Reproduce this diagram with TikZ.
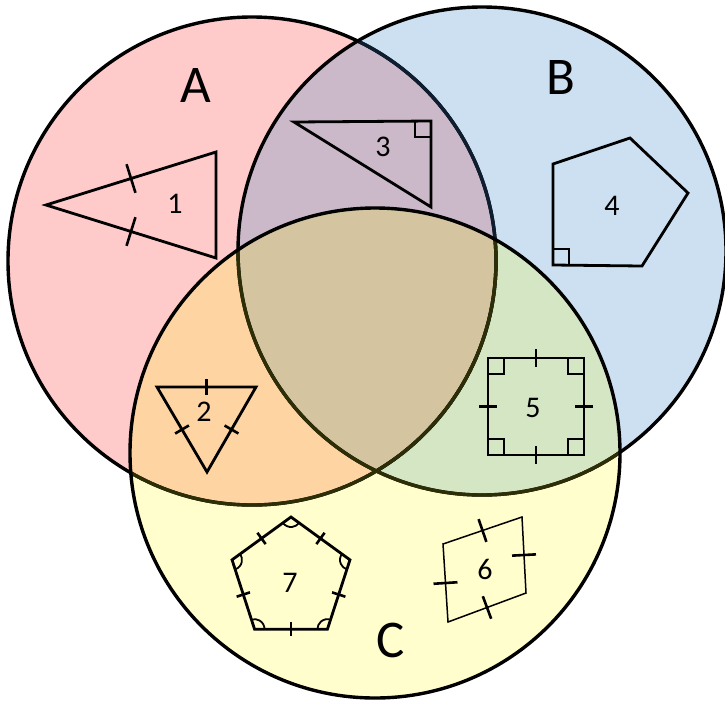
\documentclass[tikz,border=0pt]{standalone}
\usepackage{fontspec}
\setmainfont{Carlito}
\usetikzlibrary{calc,angles}

\definecolor{setA}{HTML}{FFCACA}
\definecolor{setB}{HTML}{CCE0F2}
\definecolor{setC}{HTML}{FFFECC}
\definecolor{setAB}{HTML}{CBB9CA}
\definecolor{setAC}{HTML}{FFD4A3}
\definecolor{setBC}{HTML}{D5E6C5}
\definecolor{setABC}{HTML}{D4C5A0}
\definecolor{edgeB}{HTML}{0E1E30}
\definecolor{edgeC}{HTML}{2E2E06}

\newcommand{\sidetick}[3]{%
  \draw[tickline] ($(#1)!0.5!(#2)!#3!90:(#2)$) -- ($(#1)!0.5!(#2)!#3!-90:(#2)$);}

\begin{document}
\begin{tikzpicture}[x=1pt,y=-1pt,
    venn/.style={line width=3.4pt},
    figline/.style={line width=2.8pt,line join=miter},
    thinfig/.style={line width=1.5pt,line join=miter},
    tickline/.style={line width=2.6pt},
    anglemark/.style={line width=1.8pt},
    setlabel/.style={font=\fontsize{53}{60}\selectfont},
    numlabel/.style={font=\fontsize{30}{34}\selectfont}]
    \useasboundingbox (0,0) rectangle (725,702);

    \coordinate (cA) at (252,261);
    \coordinate (cB) at (482,251);
    \coordinate (cC) at (375,453);

    \fill[setA] (cA) circle[radius=244pt];
    \fill[setB] (cB) circle[radius=244pt];
    \fill[setC] (cC) circle[radius=245pt];
    \begin{scope}
        \clip (cB) circle[radius=244pt];
        \fill[setBC] (cC) circle[radius=245pt];
    \end{scope}
    \begin{scope}
        \clip (cA) circle[radius=244pt];
        \fill[setAB] (cB) circle[radius=244pt];
        \fill[setAC] (cC) circle[radius=245pt];
        \clip (cB) circle[radius=244pt];
        \fill[setABC] (cC) circle[radius=245pt];
    \end{scope}

    \draw[venn] (cA) circle[radius=244pt];
    \begin{scope}
        \clip (cB) circle[radius=244pt];
        \draw[venn,edgeB] (cA) circle[radius=244pt];
    \end{scope}
    \draw[venn] (cB) circle[radius=244pt];
    \begin{scope}
        \clip (cC) circle[radius=245pt];
        \draw[venn,edgeC] (cA) circle[radius=244pt];
        \draw[venn,edgeC] (cB) circle[radius=244pt];
    \end{scope}
    \draw[venn] (cC) circle[radius=245pt];

    \node[setlabel] (labA) at (196,85) {A};
    \node[setlabel] (labB) at (561,77) {B};
    \node[setlabel] (labC) at (391,640) {C};

    % 1: isosceles triangle
    \coordinate (t1a) at (46,205);
    \coordinate (t1b) at (216,152);
    \coordinate (t1c) at (216,258);
    \draw[figline] (t1a) -- (t1b) -- (t1c) -- cycle;
    \sidetick{t1a}{t1b}{15pt}
    \sidetick{t1a}{t1c}{15pt}

    % 2: equilateral triangle
    \coordinate (t2a) at (157,387);
    \coordinate (t2b) at (256,387);
    \coordinate (t2c) at (207,472);
    \draw[figline] (t2a) -- (t2b) -- (t2c) -- cycle;
    \foreach \p/\q in {t2a/t2b,t2b/t2c,t2c/t2a}{
        \sidetick{\p}{\q}{8pt}
    }

    % 3: right triangle
    \coordinate (t3a) at (294,122);
    \coordinate (t3b) at (431,121);
    \coordinate (t3c) at (431,207);
    \draw[figline] (t3a) -- (t3b) -- (t3c) -- cycle;

    % 4: pentagon with one right angle
    \coordinate (p4a) at (553,164);
    \coordinate (p4b) at (630,138);
    \coordinate (p4c) at (688,193);
    \coordinate (p4d) at (642,266);
    \coordinate (p4e) at (553,265);
    \draw[figline] (p4a) -- (p4b) -- (p4c) -- (p4d) -- (p4e) -- cycle;

    % 5: square
    \coordinate (s5a) at (488,358);
    \coordinate (s5b) at (584,358);
    \coordinate (s5c) at (584,455);
    \coordinate (s5d) at (488,455);
    \draw[figline] (s5a) -- (s5b) -- (s5c) -- (s5d) -- cycle;
    \foreach \p/\q in {s5a/s5b,s5b/s5c,s5c/s5d,s5d/s5a}{
        \sidetick{\p}{\q}{9pt}
    }

    \foreach \c/\dx/\dy in {t3b/-16/16,p4e/16/-16,s5a/16/16,s5b/-16/16,s5c/-16/-16,s5d/16/-16}{
        \draw[anglemark] ($(\c)+(\dx,0)$) -- ++(0,\dy) -- ++(-\dx,0);
    }

    % 6: rhombus
    \coordinate (q6a) at (443,544);
    \coordinate (q6b) at (522,517);
    \coordinate (q6c) at (526,593);
    \coordinate (q6d) at (448,622);
    \draw[thinfig] (q6a) -- (q6b) -- (q6c) -- (q6d) -- cycle;
    \foreach \p/\q in {q6a/q6b,q6b/q6c,q6c/q6d,q6d/q6a}{
        \sidetick{\p}{\q}{12pt}
    }

    % 7: regular pentagon
    \coordinate (c7) at (291,579);
    \foreach \k in {1,...,5}{
        \coordinate (p7\k) at ($(c7)+({270+72*(\k-1)}:62)$);
    }
    \draw[figline] (p71) -- (p72) -- (p73) -- (p74) -- (p75) -- cycle;
    \foreach \i/\j in {1/2,2/3,3/4,4/5,5/1}{
        \sidetick{p7\i}{p7\j}{7pt}
    }
    \foreach \h/\i/\j in {5/1/2,1/2/3,2/3/4,3/4/5,4/5/1}{
        \pic[draw,anglemark,angle radius=10pt] {angle=p7\h--p7\i--p7\j};
    }

    \node[numlabel] (num1) at (175,204) {1};
    \node[numlabel] (num2) at (204,412) {2};
    \node[numlabel] (num3) at (383,147) {3};
    \node[numlabel] (num4) at (612,206) {4};
    \node[numlabel] (num5) at (533,408) {5};
    \node[numlabel] (num6) at (485,569) {6};
    \node[numlabel] (num7) at (290,583) {7};
\end{tikzpicture}
\end{document}
